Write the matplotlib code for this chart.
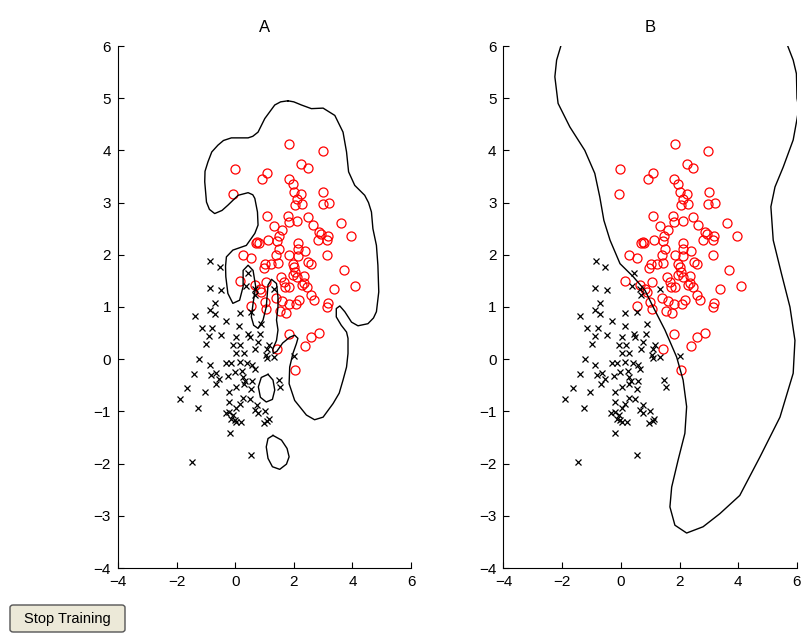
import matplotlib
matplotlib.use("Agg")
import matplotlib.pyplot as plt
from matplotlib.patches import FancyBboxPatch
import numpy as np

plt.rcParams['font.family'] = ['Liberation Sans', 'DejaVu Sans']

# ---- class 1 (red circles) ----
red_x = [-0.02, 0.92, 1.09, -0.08, 1.09, 0.74, 1.12, 1.83, 2.98, 2.25, 2.47, 1.82, 1.96, 2.00,
         2.25, 2.10, 2.04, 2.29, 3.00, 2.98, 3.20, 1.79, 1.82, 2.11, 2.47, 2.64, 1.34, 1.59,
         1.48, 2.87, 2.93, 2.81, 3.18, 3.13, 3.61, 3.95, 1.43, 2.13, 1.51, 2.13, 2.38, 1.85,
         2.13, 1.40, 3.15, 1.45, 1.23, 1.02, 1.96, 2.50, 2.59, 2.02, 3.70, 2.04, 1.57, 1.96,
         2.11, 2.34, 1.68, 1.85, 1.70, 2.27, 2.36, 2.45, 1.06, 3.38, 4.09, 2.59, 2.68, 1.40,
         1.59, 1.82, 2.08, 2.19, 3.18, 3.13, 1.54, 1.74, 1.06, 1.82, 2.59, 2.87, 2.38, 1.43,
         2.04, 0.70, 0.80, 0.26, 0.55, 0.97, 0.15, 0.66, 0.83, 0.89, 1.00, 0.55]
red_y = [3.65, 3.46, 3.57, 3.16, 2.75, 2.25, 2.29, 4.13, 3.98, 3.74, 3.67, 3.45, 3.35, 3.21,
         3.16, 3.06, 2.95, 2.97, 3.21, 2.97, 2.99, 2.74, 2.63, 2.64, 2.73, 2.57, 2.55, 2.48,
         2.36, 2.44, 2.39, 2.29, 2.36, 2.28, 2.61, 2.36, 2.27, 2.22, 2.12, 2.12, 2.07, 1.99,
         1.97, 1.99, 1.99, 1.85, 1.82, 1.82, 1.83, 1.86, 1.83, 1.76, 1.70, 1.67, 1.58, 1.61,
         1.58, 1.59, 1.48, 1.39, 1.39, 1.42, 1.46, 1.39, 1.48, 1.35, 1.40, 1.23, 1.14, 1.18,
         1.12, 1.05, 1.05, 1.13, 1.07, 1.00, 0.93, 0.89, 0.97, 0.48, 0.43, 0.50, 0.25, 0.20,
         -0.20, 2.22, 2.22, 1.99, 1.93, 1.74, 1.50, 1.42, 1.34, 1.29, 1.10, 1.02]

# ---- class 2 (black crosses) ----
blk_x = [-0.85, -0.53, 0.43, -0.87, -0.47, 0.38, 0.66, 0.69, -0.70, -0.87, -0.70, -1.38, 0.15,
         0.55, -0.30, -1.14, -0.78, 0.13, 0.89, -0.89, -0.47, 0.04, 0.43, 0.49, 0.85, -0.98,
         -0.08, 0.17, 0.77, 0.69, 0.04, 0.29, 1.08, 1.32, 1.16, 1.05, 1.10, 1.34, 2.00, 1.48,
         1.54, -1.23, -0.87, -0.30, -0.13, 0.15, 0.40, 0.58, 0.66, -1.41, -0.81, -0.64, -0.55,
         -0.67, -0.25, -0.02, 0.24, 0.26, 0.35, 0.58, 0.29, -1.64, -1.04, -0.21, 0.04, 0.55,
         -1.89, 0.26, 0.49, -0.21, 0.15, -1.27, 0.04, 0.74, 0.66, 0.77, 1.00, -0.33, -0.21,
         -0.08, -0.13, -0.02, 0.04, 0.21, 0.97, 1.08, 1.14, -0.19, 0.55, -1.46]
blk_y = [1.88, 1.76, 1.66, 1.37, 1.32, 1.40, 1.35, 1.23, 1.08, 0.94, 0.86, 0.82, 0.89,
         0.91, 0.73, 0.59, 0.59, 0.63, 0.67, 0.44, 0.46, 0.43, 0.48, 0.42, 0.49, 0.29,
         0.27, 0.27, 0.33, 0.20, 0.12, 0.12, 0.20, 1.34, 0.27, 0.08, 0.03, 0.04, 0.06, -0.40,
         -0.54, 0.01, -0.11, -0.07, -0.07, -0.05, -0.08, -0.11, -0.18, -0.29, -0.31, -0.26, -0.37,
         -0.47, -0.33, -0.24, -0.22, -0.34, -0.42, -0.42, -0.47, -0.56, -0.63, -0.63, -0.53, -0.58,
         -0.77, -0.75, -0.77, -0.82, -0.86, -0.93, -0.93, -0.88, -0.98, -1.04, -1.00, -1.04, -1.01,
         -1.07, -1.14, -1.17, -1.20, -1.20, -1.22, -1.18, -1.15, -1.41, -1.84, -1.97]

# ---- decision boundary A (traced) ----
bndA_x = [1.80, 1.55, 1.35, 1.01, 0.78, 0.60, 0.44, 0.15, -0.13, -0.40, -0.59, -0.80, -0.93, -1.03,
          -1.04, -0.98, -0.88, -0.70, -0.45, -0.25, 0.10,
          0.44, 0.60, 0.67, 0.76, 0.78, 0.67, 0.38, -0.08, -0.30, -0.33, -0.32, -0.25, -0.08, 0.15, 0.27,
          0.27, 0.44, 0.61, 0.70, 0.61, 0.55, 0.63, 0.78, 0.95, 1.06, 1.12, 1.24, 1.41, 1.46,
          1.46, 1.41, 1.46, 1.41, 1.28, 1.30, 1.42, 1.62, 1.86, 2.03, 2.14, 2.09, 1.97, 1.86,
          1.84, 2.03, 2.43, 2.71, 3.00, 3.34, 3.55, 3.68, 3.80, 3.85, 3.85, 3.80, 3.62, 3.45, 3.45, 3.57,
          3.74, 3.97, 4.19, 4.53, 4.72, 4.82, 4.90, 4.87, 4.82, 4.70, 4.65, 4.55, 4.42, 4.08, 3.87, 3.80,
          3.68, 3.40, 3.00, 2.60, 2.26, 2.00, 1.80]
bndA_y = [4.95, 4.93, 4.87, 4.61, 4.35, 4.27, 4.24, 4.24, 4.24, 4.19, 4.10, 3.97, 3.78, 3.60,
          3.40, 3.01, 2.87, 2.79, 2.85, 2.95, 3.14,
          3.19, 3.15, 3.08, 2.82, 2.57, 2.41, 2.18, 2.09, 1.96, 1.78, 1.58, 1.26, 1.07, 1.13, 1.39,
          1.70, 1.80, 1.70, 1.39, 1.07, 0.81, 0.65, 0.59, 0.75, 1.00, 1.42, 1.53, 1.45, 1.19,
          1.00, 0.75, 0.56, 0.36, 0.19, 0.11, 0.15, 0.31, 0.42, 0.46, 0.40, 0.30, 0.11, -0.15,
          -0.47, -0.79, -1.07, -1.16, -1.11, -0.85, -0.65, -0.40, -0.15, 0.11, 0.40, 0.52, 0.65, 0.81, 0.97, 1.02,
          0.91, 0.71, 0.64, 0.68, 0.79, 0.91, 1.29, 1.80, 2.18, 2.50, 2.82, 3.00, 3.14, 3.33, 3.59, 3.97,
          4.35, 4.67, 4.81, 4.80, 4.87, 4.93, 4.95]

islA1_x = [1.12, 1.29, 1.35, 1.27, 1.06, 0.86, 0.79, 0.89, 1.12]
islA1_y = [-0.29, -0.40, -0.59, -0.77, -0.82, -0.73, -0.53, -0.35, -0.29]
islA2_x = [1.29, 1.58, 1.77, 1.84, 1.75, 1.52, 1.27, 1.12, 1.06, 1.12, 1.29]
islA2_y = [-1.46, -1.55, -1.71, -1.87, -2.01, -2.11, -2.06, -1.90, -1.68, -1.52, -1.46]

# ---- decision boundary B (traced) ----
bndB_x = [-2.02, -2.19, -2.25, -2.14, -1.74, -1.23, -0.89, -0.72, -0.58, -0.37, -0.03, 0.42,
          0.82, 1.10, 1.50, 1.90, 2.12, 2.24, 2.18, 1.95, 1.73, 1.67, 1.84, 2.24, 2.80, 3.37,
          4.05, 4.74, 5.42, 5.87, 5.93, 5.76, 5.47, 5.19, 5.11, 5.25, 5.53, 5.87, 6.00, 6.06,
          6.00, 5.98, 5.87, 5.65]
bndB_y = [6.05, 5.73, 5.41, 4.90, 4.45, 4.00, 3.56, 3.11, 2.66, 2.28, 1.83, 1.58,
          1.32, 1.00, 0.56, 0.04, -0.40, -0.91, -1.42, -1.93, -2.45, -2.83, -3.18, -3.33, -3.21, -2.96,
          -2.61, -1.87, -1.11, -0.27, 0.36, 1.00, 1.64, 2.28, 2.92, 3.30, 3.68, 4.20, 4.60, 4.80,
          5.00, 5.47, 5.73, 6.05]

titles = ["A", "B"]
xticks = [-4, -2, 0, 2, 4, 6]
yticks = [-4, -3, -2, -1, 0, 1, 2, 3, 4, 5, 6]

fig = plt.figure(figsize=(8.04, 6.33), dpi=100)
axA = fig.add_axes([118/804, 1-568/633, 293/804, 522/633])
axB = fig.add_axes([503.5/804, 1-568/633, 293.5/804, 522/633])

for ax, title in zip([axA, axB], titles):
    ax.plot(red_x, red_y, 'o', mfc='none', mec='red', ms=6.5, mew=0.9, ls='none')
    ax.plot(blk_x, blk_y, 'x', color='black', ms=5, mew=0.9, ls='none')
    ax.set_xlim(-4, 6)
    ax.set_ylim(-4, 6)
    ax.set_xticks(xticks)
    ax.set_yticks(yticks)
    ax.tick_params(direction='in', length=4, width=0.8, labelsize=11, pad=5)
    ax.spines['top'].set_visible(False)
    ax.spines['right'].set_visible(False)
    ax.set_title(title, fontsize=12, pad=10)

axA.plot(bndA_x, bndA_y, color='black', lw=1.0)
axA.plot(islA1_x, islA1_y, color='black', lw=1.0)
axA.plot(islA2_x, islA2_y, color='black', lw=1.0)
axB.plot(bndB_x, bndB_y, color='black', lw=1.0)

# Stop Training button
btn = FancyBboxPatch((10/804, 1-632/633), 115/804, 27/633, boxstyle="round,pad=0,rounding_size=0.004",
                     transform=fig.transFigure, facecolor='#ECE9D8', edgecolor='#555555', lw=1.0)
fig.patches.append(btn)
fig.text(67.5/804, 1-618.5/633, "Stop Training", ha='center', va='center', fontsize=10.5)

fig.savefig("out.png", dpi=100)
